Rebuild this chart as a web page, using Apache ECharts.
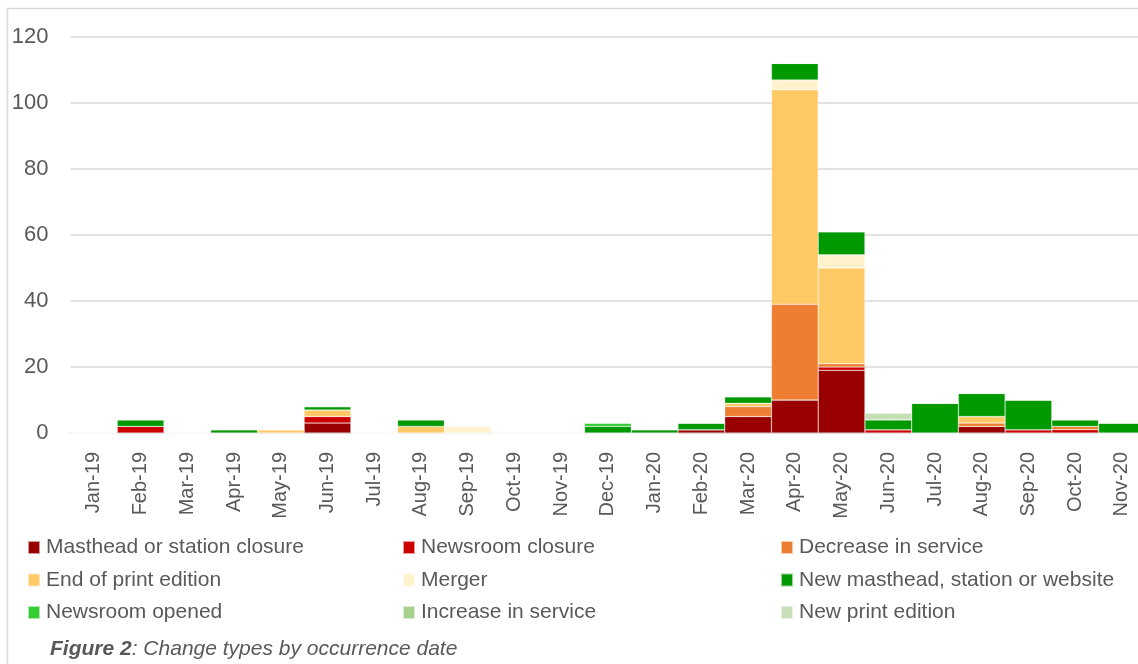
<!DOCTYPE html>
<html>
<head>
<meta charset="utf-8">
<style>
  html, body { margin: 0; padding: 0; background: #ffffff; overflow: hidden; }
  #chart { width: 1138px; height: 664px; }
</style>
<script src="https://cdn.jsdelivr.net/npm/echarts@6/dist/echarts.min.js"></script>
</head>
<body>
<div id="chart"></div>
<script>
// Months of occurrence
const months = ['Jan-19','Feb-19','Mar-19','Apr-19','May-19','Jun-19','Jul-19','Aug-19','Sep-19','Oct-19','Nov-19','Dec-19',
                'Jan-20','Feb-20','Mar-20','Apr-20','May-20','Jun-20','Jul-20','Aug-20','Sep-20','Oct-20','Nov-20'];

// Counts of each change type per month (stacked bottom to top in this order)
const mastheadClosure   = [0,0,0,0,0,3,0,0,0,0,0,0, 0,1,5,10,19,0,0,2,0,0,0];
const newsroomClosure   = [0,2,0,0,0,2,0,0,0,0,0,0, 0,0,0,0,1,1,0,0,1,1,0];
const decreaseService   = [0,0,0,0,0,0,0,0,0,0,0,0, 0,0,3,29,1,0,0,1,0,1,0];
const endPrintEdition   = [0,0,0,0,1,2,0,2,0,0,0,0, 0,0,1,65,29,0,0,2,0,0,0];
const merger            = [0,0,0,0,0,0,0,0,2,0,0,0, 0,0,0,3,4,0,0,0,0,0,0];
const newMasthead       = [0,2,0,1,0,1,0,2,0,0,0,2, 1,2,2,5,7,3,9,7,9,2,3];
const newsroomOpened    = [0,0,0,0,0,0,0,0,0,0,0,1, 0,0,0,0,0,0,0,0,0,0,0];
const increaseService   = [0,0,0,0,0,0,0,0,0,0,0,0, 0,0,0,0,0,0,0,0,0,0,0];
const newPrintEdition   = [0,0,0,0,0,0,0,0,0,0,0,0, 0,0,0,0,0,2,0,0,0,0,0];

const yTicks = { min: 0, max: 120, interval: 20 };

const seriesDefs = [
  { name: 'Masthead or station closure',      data: mastheadClosure, color: '#990000' },
  { name: 'Newsroom closure',                 data: newsroomClosure, color: '#CC0000' },
  { name: 'Decrease in service',              data: decreaseService, color: '#ED7D31' },
  { name: 'End of print edition',             data: endPrintEdition, color: '#FFC966' },
  { name: 'Merger',                           data: merger,          color: '#FFF2CC' },
  { name: 'New masthead, station or website', data: newMasthead,     color: '#009900' },
  { name: 'Newsroom opened',                  data: newsroomOpened,  color: '#33CC33' },
  { name: 'Increase in service',              data: increaseService, color: '#A9D18E' },
  { name: 'New print edition',                data: newPrintEdition, color: '#C5E0B4' }
];

const FONT = '"Liberation Sans", Arial, sans-serif';
const TEXT_COLOR = '#595959';

// Legend laid out in three columns
const legendColumns = [
  { left: 27,  names: [seriesDefs[0].name, seriesDefs[3].name, seriesDefs[6].name] },
  { left: 402, names: [seriesDefs[1].name, seriesDefs[4].name, seriesDefs[7].name] },
  { left: 780, names: [seriesDefs[2].name, seriesDefs[5].name, seriesDefs[8].name] }
];

const chart = echarts.init(document.getElementById('chart'), null, { renderer: 'canvas' });

chart.setOption({
  animation: false,
  backgroundColor: '#ffffff',
  // plot area runs slightly past the right edge of the canvas
  grid: { left: 70.5, width: 1074.8, top: 37, bottom: 231, containLabel: false, outerBoundsMode: 'none' },
  legend: legendColumns.map(col => ({
    data: col.names,
    orient: 'vertical',
    left: col.left,
    top: 537,
    itemWidth: 12,
    itemHeight: 13,
    itemGap: 11.5,
    padding: 0,
    icon: 'rect',
    selectedMode: false,
    textStyle: { fontFamily: FONT, fontSize: 21, color: TEXT_COLOR, padding: [0, 0, 0, 1] }
  })),
  xAxis: {
    type: 'category',
    data: months,
    axisLine: { lineStyle: { color: '#d9d9d9', width: 2 } },
    axisTick: { show: false },
    axisLabel: {
      rotate: 90, margin: 19, interval: 0,
      fontFamily: FONT, fontSize: 20, color: TEXT_COLOR
    }
  },
  yAxis: {
    type: 'value',
    min: yTicks.min, max: yTicks.max, interval: yTicks.interval,
    axisLine: { show: false },
    axisTick: { show: false },
    splitLine: { lineStyle: { color: '#d9d9d9', width: 1.5 } },
    axisLabel: { margin: 22, fontFamily: FONT, fontSize: 22, color: TEXT_COLOR }
  },
  series: seriesDefs.map(s => ({
    name: s.name,
    type: 'bar',
    stack: 'total',
    data: s.data,
    barWidth: '100%',
    barCategoryGap: '0%',
    itemStyle: { color: s.color, borderColor: 'rgba(255,255,255,0.6)', borderWidth: 0.5 }
  })),
  graphic: [
    {
      type: 'rect', silent: true, z: -1,
      shape: { x: 7.5, y: 8.5, width: 1200, height: 700 },
      style: { fill: 'none', stroke: '#d9d9d9', lineWidth: 1.5 }
    },
    {
      type: 'text', left: 50, top: 639,
      style: {
        text: '{b|Figure 2}{i|: Change types by occurrence date}',
        rich: {
          b: { fontFamily: FONT, fontSize: 21, fontWeight: 'bold', fontStyle: 'italic', fill: TEXT_COLOR },
          i: { fontFamily: FONT, fontSize: 21, fontStyle: 'italic', fill: TEXT_COLOR }
        }
      }
    }
  ]
});
</script>
</body>
</html>
